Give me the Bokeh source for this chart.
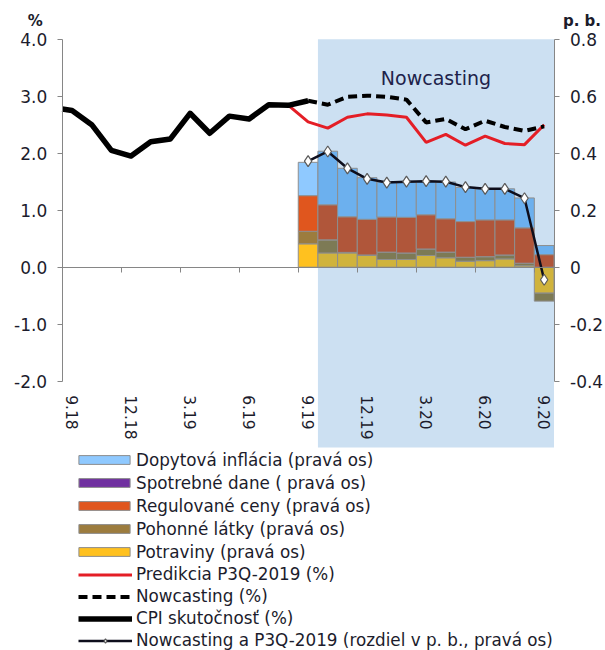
import numpy as np
from bokeh.plotting import figure
from bokeh.models import (Range1d, LinearAxis, FixedTicker, NumeralTickFormatter,
                          BoxAnnotation, Legend, LegendItem, Label, ColumnDataSource)
from bokeh.embed import file_html
from bokeh.resources import INLINE

# ---------------- data ----------------
months = ["9.18", "10.18", "11.18", "12.18", "1.19", "2.19", "3.19", "4.19", "5.19",
          "6.19", "7.19", "8.19", "9.19", "10.19", "11.19", "12.19", "1.20", "2.20",
          "3.20", "4.20", "5.20", "6.20", "7.20", "8.20", "9.20"]
tick_months = ["9.18", "12.18", "3.19", "6.19", "9.19", "12.19", "3.20", "6.20", "9.20"]

# CPI actual (%), 8.18 .. 9.19
cpi_months = ["8.18"] + months[:13]
cpi_actual = [2.80, 2.75, 2.50, 2.05, 1.95, 2.20, 2.25, 2.70, 2.35, 2.65, 2.60, 2.85, 2.84, 2.92]

# Prediction P3Q-2019 (%), 8.19 .. 9.20
pred_months = months[11:]
pred_p3q = [2.84, 2.55, 2.44, 2.63, 2.69, 2.67, 2.63, 2.19, 2.33, 2.14, 2.30, 2.17, 2.15, 2.50]

# Nowcasting (%), 9.19 .. 9.20
now_months = months[12:]
nowcast = [2.92, 2.85, 2.99, 3.01, 2.99, 2.94, 2.54, 2.60, 2.42, 2.57, 2.46, 2.39, 2.47]

# Difference nowcasting - P3Q-2019 (p. b., right axis), 9.19 .. 9.20
diff_pb = [0.372, 0.406, 0.347, 0.310, 0.297, 0.300, 0.302, 0.300, 0.281, 0.275, 0.275, 0.242, -0.044]

# Contributions (p. b., right axis), 9.19 .. 9.20
potraviny = [0.082, 0.050, 0.050, 0.041, 0.027, 0.027, 0.041, 0.033, 0.021, 0.023, 0.029, 0.005, -0.091]
pohonne = [0.044, 0.046, 0.002, 0.002, 0.026, 0.023, 0.023, 0.020, 0.014, 0.014, 0.014, 0.009, -0.028]
spotrebne = [0.0] * 13
regulovane = [0.125, 0.123, 0.125, 0.125, 0.123, 0.125, 0.120, 0.117, 0.125, 0.129, 0.123, 0.124, 0.044]
dopytova = [0.117, 0.188, 0.170, 0.146, 0.123, 0.123, 0.117, 0.129, 0.120, 0.109, 0.109, 0.105, 0.032]

# ---------------- layout constants (pixels) ----------------
W, H = 605, 650
PLOT_L, PLOT_R = 61.7, 553.5          # left / right axis lines
Y_TOP_PX, PX_PER_UNIT = 38.7, 57.0    # y of 4.0 and pixels per 1 %-point
SHADE_BOTTOM_PX = 447.0

all_months = ["8.18"] + months


def xpos(ms):
    return [all_months.index(m) - 1 for m in ms]


n = len(months)
px_x = (PLOT_R - PLOT_L) / n
x0 = -0.5 - PLOT_L / px_x
x1 = x0 + W / px_x
y1 = 4.0 + Y_TOP_PX / PX_PER_UNIT
y0 = y1 - H / PX_PER_UNIT
shade_bottom = y1 - SHADE_BOTTOM_PX / PX_PER_UNIT

shade_start = months.index("10.19") - 0.5
shade_end = n - 0.5

FONT = "DejaVu Sans"
AX = "#868686"
TXT = "#1c1c2c"

p = figure(frame_width=W, frame_height=H,
           x_range=Range1d(x0, x1), y_range=Range1d(y0, y1),
           x_axis_location=None, y_axis_location=None,
           output_backend="svg", toolbar_location=None,
           min_border=0, background_fill_color="white", border_fill_color="white")
p.outline_line_color = None
p.xgrid.visible = False
p.ygrid.visible = False
p.extra_y_ranges = {"right": Range1d(y0 / 5.0, y1 / 5.0)}

# shaded nowcasting area
p.add_layout(BoxAnnotation(left=shade_start, right=shade_end, top=4.0, bottom=shade_bottom,
                           fill_color="#CCE0F2", fill_alpha=1.0, line_color=None,
                           level="underlay"))

# axes
ly = LinearAxis(ticker=FixedTicker(ticks=[-2, -1, 0, 1, 2, 3, 4]),
                formatter=NumeralTickFormatter(format="0.0"), bounds=(-2, 4),
                fixed_location=-0.5, major_label_standoff=10)
ry = LinearAxis(y_range_name="right",
                ticker=FixedTicker(ticks=[-0.4, -0.2, 0, 0.2, 0.4, 0.6, 0.8]),
                formatter=NumeralTickFormatter(format="0.0"),
                major_label_overrides={0: "0"}, bounds=(-0.4, 0.8),
                fixed_location=n - 0.5, major_label_standoff=11)
for ax in (ly, ry):
    ax.axis_line_color = AX
    ax.major_tick_line_color = AX
    ax.major_tick_out = 5
    ax.major_tick_in = 0
    ax.minor_tick_line_color = None
    ax.major_label_text_font = FONT
    ax.major_label_text_font_size = "17px"
    ax.major_label_text_color = TXT
p.add_layout(ly, "left")
p.add_layout(ry, "right")

tick_pos = [months.index(m) for m in tick_months]
xt = LinearAxis(ticker=FixedTicker(ticks=[t - 0.5 for t in tick_pos]), fixed_location=0,
                bounds=(-0.5, n - 0.5),
                axis_line_color=AX, major_tick_line_color=AX, major_tick_out=5,
                major_tick_in=0, minor_tick_line_color=None, major_label_text_color=None)
xl = LinearAxis(ticker=FixedTicker(ticks=tick_pos), fixed_location=0,
                major_label_overrides={t: m for t, m in zip(tick_pos, tick_months)},
                axis_line_color=None, major_tick_line_color=None, major_tick_out=0,
                major_tick_in=0, minor_tick_line_color=None,
                major_label_orientation="vertical", major_label_standoff=128,
                major_label_text_font=FONT, major_label_text_font_size="15.5px",
                major_label_text_color=TXT)
p.add_layout(xt, "below")
p.add_layout(xl, "below")

# stacked bars (positive and negative parts stacked separately)
bar_x = xpos(now_months)
series = [
    ("Potraviny (pravá os)", potraviny, "#FFC11F", "#D0B33C"),
    ("Pohonné látky (pravá os)", pohonne, "#9C7C3E", "#7D7A55"),
    ("Spotrebné dane ( pravá os)", spotrebne, "#7030A0", "#5E3A8C"),
    ("Regulované ceny (pravá os)", regulovane, "#E0561E", "#B0563A"),
    ("Dopytová inflácia (pravá os)", dopytova, "#8FC9FF", "#6CB0EE"),
]
pos_base = np.zeros(len(bar_x))
neg_base = np.zeros(len(bar_x))
bar_renderers = {}
for name, vals, bright, muted in series:
    v = np.array(vals, dtype=float)
    bottom = np.where(v >= 0, pos_base, neg_base)
    top = bottom + v
    pos_base = np.where(v >= 0, top, pos_base)
    neg_base = np.where(v < 0, top, neg_base)
    colors = [bright if x < shade_start else muted for x in bar_x]
    src = ColumnDataSource(dict(x=bar_x, bottom=bottom, top=top, color=colors))
    r = p.vbar(x="x", bottom="bottom", top="top", width=1.0, source=src,
               fill_color="color", line_color="#8E8E8E", line_width=1,
               y_range_name="right")
    bar_renderers[name] = r

# lines
r_pred = p.line(xpos(pred_months), pred_p3q, line_color="#E41E26", line_width=3)
r_now = p.line(xpos(now_months), nowcast, line_color="black", line_width=4,
               line_dash="9 5")
cx = xpos(cpi_months)
cpi_x = [max(x, -0.5) for x in cx]
cpi_y = list(cpi_actual)
cpi_y[0] = (cpi_actual[0] + cpi_actual[1]) / 2.0  # line enters at the left edge of the area
r_cpi = p.line(cpi_x, cpi_y, line_color="black", line_width=5.5, line_join="round")
r_diff = p.line(bar_x, diff_pb, line_color="#0E0E1C", line_width=2.5,
                y_range_name="right")
r_dm = p.scatter(bar_x, diff_pb, marker="diamond", size=11, fill_color="white",
                 line_color="#5A5A5A", line_width=1.2, y_range_name="right")

# texts
p.add_layout(Label(x=(shade_start + shade_end) / 2, y=4.0, y_offset=-28, text="Nowcasting",
                   text_align="center", text_baseline="top", text_font=FONT,
                   text_font_size="19px", text_color="#20224a"))
p.add_layout(Label(x=-0.5, y=4.0, x_offset=-27, y_offset=9, text="%",
                   text_align="center", text_baseline="bottom", text_font=FONT,
                   text_font_size="15px", text_font_style="bold", text_color=TXT))
p.add_layout(Label(x=n - 0.5, y=4.0, x_offset=28, y_offset=9, text="p. b.",
                   text_align="center", text_baseline="bottom", text_font=FONT,
                   text_font_size="15px", text_font_style="bold", text_color=TXT))

# legends (bars and lines separately, so that swatches and lines have the same length)
common = dict(orientation="vertical", padding=0, margin=0, border_line_color=None,
              background_fill_alpha=0, label_text_font=FONT, label_text_font_size="16.8px",
              label_text_color=TXT, spacing=2)
bar_items = [LegendItem(label=name, renderers=[bar_renderers[name]], index=0)
             for name in ["Dopytová inflácia (pravá os)", "Spotrebné dane ( pravá os)",
                          "Regulované ceny (pravá os)", "Pohonné látky (pravá os)",
                          "Potraviny (pravá os)"]]
line_items = [
    LegendItem(label="Predikcia P3Q-2019 (%)", renderers=[r_pred]),
    LegendItem(label="Nowcasting (%)", renderers=[r_now]),
    LegendItem(label="CPI skutočnosť (%)", renderers=[r_cpi]),
    LegendItem(label="Nowcasting a P3Q-2019 (rozdiel v p. b., pravá os)", renderers=[r_diff, r_dm]),
]
leg_bars = Legend(items=bar_items, location=(72, 88), glyph_width=64, glyph_height=11,
                  label_height=21, label_standoff=0, **common)
leg_lines = Legend(items=line_items, location=(78, 0), glyph_width=54, glyph_height=11,
                   label_height=20, label_standoff=4, **common)
p.add_layout(leg_bars, "center")
p.add_layout(leg_lines, "center")

open("out.html", "w").write(file_html(p, INLINE))
